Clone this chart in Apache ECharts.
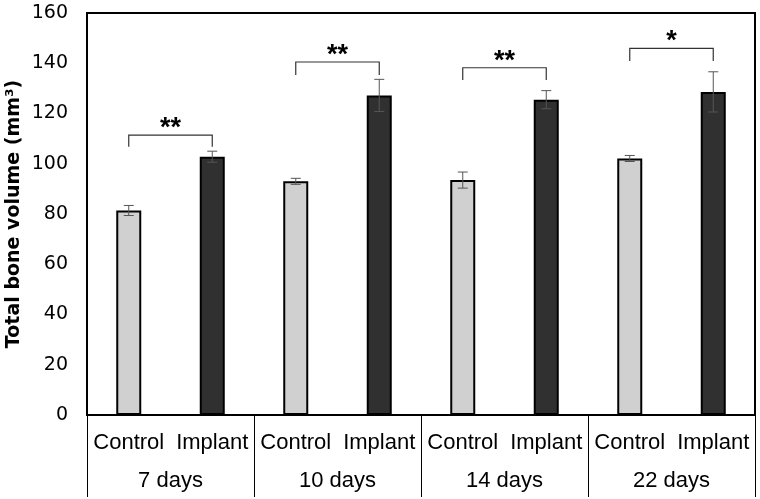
<!DOCTYPE html>
<html><head><meta charset="utf-8">
<script src="https://cdn.jsdelivr.net/npm/echarts@6/dist/echarts.min.js"></script>
<style>html,body{margin:0;padding:0;background:#fff}#c{width:760px;height:499px}</style>
</head><body><div id="c"></div>
<script>
const groups = ['7 days', '10 days', '14 days', '22 days'];
const subLabels = ['Control', 'Implant', 'Control', 'Implant', 'Control', 'Implant', 'Control', 'Implant'];
const values = [81.4, 102.8, 93.0, 127.2, 93.5, 125.5, 102.1, 128.6];
const errors = [2.0, 2.2, 1.2, 6.4, 3.2, 3.6, 1.2, 8.0];
const yTicks = { min: 0, max: 160, interval: 20 };
// bracket: [leftIndex, rightIndex, legBottom, top, label]
const brackets = [
  [0, 1, 106.8, 111.4, '**'],
  [2, 3, 135.3, 140.5, '**'],
  [4, 5, 133.3, 138.2, '**'],
  [6, 7, 140.9, 145.9, '*']
];
const colors = { control: '#d0d0d0', implant: '#303030' };

const chart = echarts.init(document.getElementById('c'));
const font = 'Liberation Sans, Arial, sans-serif';
const wideFont = 'DejaVu Sans, sans-serif';
chart.setOption({
  animation: false,
  grid: { left: 87, right: 5, top: 13, bottom: 84, containLabel: false, outerBoundsMode: 'none',
          show: true, borderColor: '#000', borderWidth: 2, backgroundColor: 'transparent' },
  xAxis: [
    {
      type: 'category', data: subLabels, position: 'bottom',
      axisLine: { show: true, lineStyle: { color: '#000', width: 2 } },
      axisTick: { show: false },
      axisLabel: { color: '#000', fontSize: 22, fontFamily: font, margin: 17, interval: 0 }
    },
    {
      type: 'category', data: groups, position: 'bottom',
      axisLine: { show: false },
      axisTick: { show: true, length: 82, lineStyle: { color: '#000', width: 1 } },
      axisLabel: { color: '#000', fontSize: 22, fontFamily: font, margin: 55, interval: 0 }
    }
  ],
  yAxis: {
    type: 'value', min: yTicks.min, max: yTicks.max, interval: yTicks.interval,
    name: 'Total bone volume (mm³)', nameLocation: 'middle', nameGap: 63, nameMoveOverlap: false,
    nameTextStyle: { color: '#000', fontSize: 19, fontWeight: 'bold', fontFamily: wideFont },
    axisLine: { show: true, lineStyle: { color: '#000', width: 2 } },
    axisTick: { show: false },
    splitLine: { show: false },
    axisLabel: { color: '#000', fontSize: 19, fontFamily: wideFont, margin: 19 }
  },
  series: [
    {
      type: 'bar', xAxisIndex: 0, barWidth: 25,
      data: values.map((v, i) => ({
        value: v,
        itemStyle: { color: i % 2 === 0 ? colors.control : colors.implant, borderColor: '#000', borderWidth: 2 }
      })),
      z: 2
    },
    {
      type: 'custom', xAxisIndex: 0, z: 3,
      data: values.map((v, i) => [i, v - errors[i], v + errors[i]]),
      renderItem: function (params, api) {
        const lo = api.coord([api.value(0), api.value(1)]);
        const hi = api.coord([api.value(0), api.value(2)]);
        const w = 5;
        const st = { stroke: '#555', lineWidth: 1 };
        return {
          type: 'group', children: [
            { type: 'line', shape: { x1: lo[0], y1: lo[1], x2: hi[0], y2: hi[1] }, style: st },
            { type: 'line', shape: { x1: lo[0] - w, y1: lo[1], x2: lo[0] + w, y2: lo[1] }, style: st },
            { type: 'line', shape: { x1: hi[0] - w, y1: hi[1], x2: hi[0] + w, y2: hi[1] }, style: st }
          ]
        };
      }
    },
    {
      type: 'custom', xAxisIndex: 0, z: 4,
      data: brackets,
      renderItem: function (params, api) {
        const b = brackets[params.dataIndex];
        const a1 = api.coord([b[0], b[2]]);
        const a2 = api.coord([b[0], b[3]]);
        const c1 = api.coord([b[1], b[3]]);
        const c2 = api.coord([b[1], b[2]]);
        return {
          type: 'group', children: [
            { type: 'polyline', shape: { points: [a1, a2, c1, c2] }, style: { stroke: '#333', lineWidth: 1.2, fill: null } },
            { type: 'text', x: (a2[0] + c1[0]) / 2, y: a2[1] + 7,
              style: { text: b[4], fill: '#000', font: 'bold 27px ' + font, align: 'center', verticalAlign: 'bottom' } }
          ]
        };
      }
    }
  ]
});
</script></body></html>
